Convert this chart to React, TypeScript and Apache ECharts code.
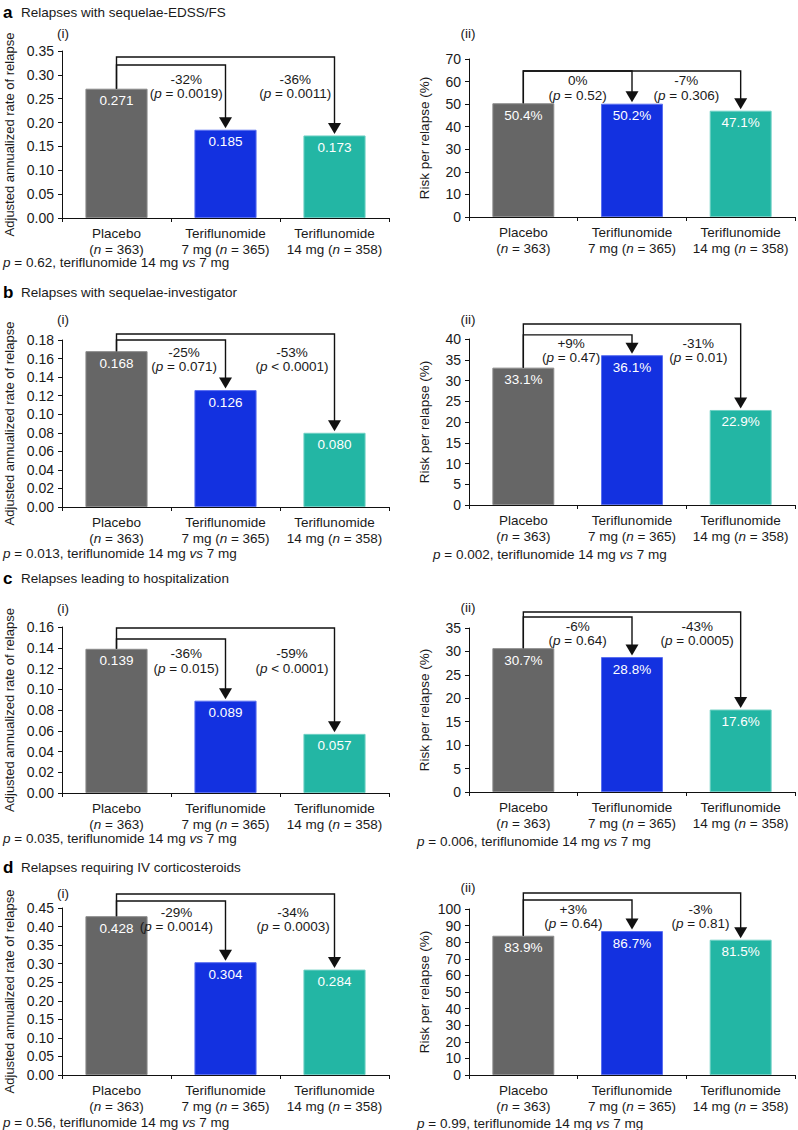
import React, { useEffect, useRef } from "react";
import * as echarts from "echarts";

// ---------- DATA ----------
const groupNames = ["Placebo", "Teriflunomide", "Teriflunomide"];
const groupDoses = ["", "7 mg ", "14 mg "];
const groupN = [363, 365, 358];

const panelLetters = ["a", "b", "c", "d"];
const panelTitles = [
  "Relapses with sequelae-EDSS/FS",
  "Relapses with sequelae-investigator",
  "Relapses leading to hospitalization",
  "Relapses requiring IV corticosteroids",
];

// (i) adjusted annualized rate of relapse
const rateEdss = [0.271, 0.185, 0.173];
const rateInv = [0.168, 0.126, 0.08];
const rateHosp = [0.139, 0.089, 0.057];
const rateIv = [0.428, 0.304, 0.284];
// (ii) risk per relapse (%)
const riskEdss = [50.4, 50.2, 47.1];
const riskInv = [33.1, 36.1, 22.9];
const riskHosp = [30.7, 28.8, 17.6];
const riskIv = [83.9, 86.7, 81.5];

// comparisons vs placebo (7 mg, 14 mg)
const rateEdssChange = ["-32%", "-36%"];
const rateEdssP = ["= 0.0019", "= 0.0011"];
const riskEdssChange = ["0%", "-7%"];
const riskEdssP = ["= 0.52", "= 0.306"];
const rateInvChange = ["-25%", "-53%"];
const rateInvP = ["= 0.071", "< 0.0001"];
const riskInvChange = ["+9%", "-31%"];
const riskInvP = ["= 0.47", "= 0.01"];
const rateHospChange = ["-36%", "-59%"];
const rateHospP = ["= 0.015", "< 0.0001"];
const riskHospChange = ["-6%", "-43%"];
const riskHospP = ["= 0.64", "= 0.0005"];
const rateIvChange = ["-29%", "-34%"];
const rateIvP = ["= 0.0014", "= 0.0003"];
const riskIvChange = ["+3%", "-3%"];
const riskIvP = ["= 0.64", "= 0.81"];

// p, teriflunomide 14 mg vs 7 mg
const rateP14vs7 = ["0.62", "0.013", "0.035", "0.56"];
const riskP14vs7 = ["", "0.002", "0.006", "0.99"];

// axis scales
const rateMax = [0.35, 0.18, 0.16, 0.45];
const rateStep = [0.05, 0.02, 0.02, 0.05];
const riskMax = [70, 40, 35, 100];
const riskStep = [10, 5, 5, 10];

// ---------- LAYOUT / STYLE ----------
const FONT = '"Liberation Sans", Arial, Helvetica, sans-serif';
const TXT = "#1a1a1a";
const barColors = ["#666666", "#1331e0", "#23b6a4"];
const barBorders = ["#8c8c8c", "#5a6ff0", "#6fd0c4"];

type Panel = {
  kind: "rate" | "risk";
  values: number[];
  max: number;
  step: number;
  change: string[];
  pv: string[];
  top: number;
  height: number;
  levels: number[];
  textCats: number[];
  textLevel: number;
};

const panels: Panel[] = [
  { kind: "rate", values: rateEdss, max: rateMax[0], step: rateStep[0], change: rateEdssChange, pv: rateEdssP, top: 51, height: 167, levels: [0.3207, 0.3375], textCats: [0.64, 1.64], textLevel: 0.2913 },
  { kind: "risk", values: riskEdss, max: riskMax[0], step: riskStep[0], change: riskEdssChange, pv: riskEdssP, top: 59, height: 158, levels: [64.7, 64.7], textCats: [0.5, 1.5], textLevel: 60.3 },
  { kind: "rate", values: rateInv, max: rateMax[1], step: rateStep[1], change: rateInvChange, pv: rateInvP, top: 340, height: 167, levels: [0.18, 0.1865], textCats: [0.62, 1.61], textLevel: 0.167 },
  { kind: "risk", values: riskInv, max: riskMax[1], step: riskStep[1], change: riskInvChange, pv: riskInvP, top: 339, height: 166, levels: [41.0, 43.6], textCats: [0.44, 1.61], textLevel: 39.0 },
  { kind: "rate", values: rateHosp, max: rateMax[2], step: rateStep[2], change: rateHospChange, pv: rateHospP, top: 627, height: 166, levels: [0.1484, 0.159], textCats: [0.64, 1.61], textLevel: 0.134 },
  { kind: "risk", values: riskHosp, max: riskMax[2], step: riskStep[2], change: riskHospChange, pv: riskHospP, top: 628, height: 164, levels: [37.35, 38.4], textCats: [0.5, 1.6], textLevel: 35.4 },
  { kind: "rate", values: rateIv, max: rateMax[3], step: rateStep[3], change: rateIvChange, pv: rateIvP, top: 908, height: 167, levels: [0.4689, 0.4877], textCats: [0.55, 1.62], textLevel: 0.4392 },
  { kind: "risk", values: riskIv, max: riskMax[3], step: riskStep[3], change: riskIvChange, pv: riskIvP, top: 909, height: 166, levels: [105.4, 109.6], textCats: [0.46, 1.63], textLevel: 100 },
];

const titleY = [13, 293, 579, 868];
const romanY = [33, 319, 608, 893];
const romanY2 = [33, 319, 607, 887];
const footerLeftY = [262, 553, 838, 1122];
const footerRightY = [0, 554, 841, 1123];
const footerRightX = [0, 433, 417, 417];

const catLabels = groupNames.map((g, i) =>
  i === 0 ? `${g}\n({i|n} = ${groupN[i]})` : `${g}\n${groupDoses[i]}({i|n} = ${groupN[i]})`
);

const italicRich = (size: number) => ({
  i: { fontStyle: "italic", fontSize: size, fontFamily: FONT, color: TXT, fill: TXT },
});

function buildOption() {
  const grids: any[] = [];
  const xAxes: any[] = [];
  const yAxes: any[] = [];
  const series: any[] = [];

  panels.forEach((p, k) => {
    const right = k % 2 === 1;
    grids.push({
      left: right ? 469 : 62,
      width: right ? 326 : 327,
      top: p.top,
      height: p.height,
      containLabel: false,
    });
    xAxes.push({
      type: "category",
      gridIndex: k,
      data: catLabels,
      axisLine: { lineStyle: { color: "#111", width: 1 } },
      axisTick: { show: true, alignWithLabel: false, length: 4, lineStyle: { color: "#111" } },
      axisLabel: {
        interval: 0,
        margin: 7,
        fontSize: 13.5,
        lineHeight: 16,
        fontFamily: FONT,
        color: TXT,
        rich: {
          i: { fontStyle: "italic", fontSize: 13.5, fontFamily: FONT, color: TXT, lineHeight: 16 },
        },
      },
    });
    yAxes.push({
      type: "value",
      gridIndex: k,
      min: 0,
      max: p.max,
      interval: p.step,
      name: p.kind === "rate" ? "Adjusted annualized rate of relapse" : "Risk per relapse (%)",
      nameLocation: "middle",
      nameGap: p.kind === "rate" ? 46 : 38,
      nameTextStyle: { fontSize: p.kind === "rate" ? 13 : 13.5, fontFamily: FONT, color: TXT },
      axisLine: { show: true, lineStyle: { color: "#111", width: 1 } },
      axisTick: { show: true, length: 4, lineStyle: { color: "#111" } },
      splitLine: { show: false },
      axisLabel: {
        fontSize: 14,
        fontFamily: FONT,
        color: TXT,
        margin: 8,
        formatter: (v: number) => (p.kind === "rate" ? v.toFixed(2) : String(Math.round(v))),
      },
    });
    series.push({
      type: "bar",
      xAxisIndex: k,
      yAxisIndex: k,
      barWidth: "57%",
      data: p.values.map((v, i) => ({
        value: v,
        itemStyle: { color: barColors[i], borderColor: barBorders[i], borderWidth: 1 },
      })),
      label: {
        show: true,
        position: "insideTop",
        distance: 5,
        color: "#ffffff",
        fontSize: 13.5,
        fontFamily: FONT,
        formatter: (prm: any) =>
          p.kind === "rate" ? Number(prm.value).toFixed(3) : Number(prm.value).toFixed(1) + "%",
      },
    });
    // brackets with arrows, drawn through the axes' scales
    const bracketData = [1, 2].map((t, j) => [
      t,
      p.levels[j],
      p.values[t],
      p.values[0],
      p.textCats[j],
      p.textLevel,
    ]);
    series.push({
      type: "custom",
      xAxisIndex: k,
      yAxisIndex: k,
      clip: false,
      silent: true,
      z: 5,
      data: bracketData,
      renderItem: (params: any, api: any) => {
        const idx = params.dataIndex;
        const target = api.value(0);
        const level = api.value(1);
        const targetTop = api.value(2);
        const placeboTop = api.value(3);
        const textCat = api.value(4);
        const textLevel = api.value(5);
        const a = api.coord([0, placeboTop]);
        const b = api.coord([0, level]);
        const c = api.coord([target, level]);
        const d = api.coord([target, targetTop]);
        const cw = api.size([1, 0])[0];
        const tBase = api.coord([0, textLevel]);
        const tx = tBase[0] + textCat * cw;
        const ty = tBase[1];
        const tipY = d[1] - 1.5;
        const ah = 11;
        const aw = 6.5;
        return {
          type: "group",
          children: [
            {
              type: "polyline",
              shape: { points: [[a[0], a[1]], [b[0], b[1]], [c[0], c[1]], [c[0], tipY - ah + 1]] },
              style: { stroke: "#111", lineWidth: 1.4, fill: "none" },
            },
            {
              type: "polygon",
              shape: { points: [[c[0] - aw, tipY - ah], [c[0] + aw, tipY - ah], [c[0], tipY]] },
              style: { fill: "#111" },
            },
            {
              type: "text",
              x: tx,
              y: ty,
              style: {
                text: p.change[idx],
                fontSize: 13.5,
                fontFamily: FONT,
                fill: TXT,
                align: "center",
                verticalAlign: "middle",
              },
            },
            {
              type: "text",
              x: tx,
              y: ty + 14.5,
              style: {
                text: `({i|p} ${p.pv[idx]})`,
                fontSize: 13.5,
                fontFamily: FONT,
                fill: TXT,
                align: "center",
                verticalAlign: "middle",
                rich: italicRich(13.5),
              },
            },
          ],
        };
      },
    });
  });

  const graphic: any[] = [];
  panelLetters.forEach((L, k) => {
    graphic.push({
      type: "text",
      left: 3,
      top: titleY[k] - 9,
      style: { text: L, fontSize: 17, fontWeight: "bold", fontFamily: FONT, fill: "#000" },
    });
    graphic.push({
      type: "text",
      left: 21,
      top: titleY[k] - 8,
      style: { text: panelTitles[k], fontSize: 13.5, fontFamily: FONT, fill: TXT },
    });
    graphic.push({
      type: "text",
      x: 63,
      y: romanY[k],
      style: { text: "(i)", fontSize: 13.5, fontFamily: FONT, fill: TXT, align: "center", verticalAlign: "middle" },
    });
    graphic.push({
      type: "text",
      x: 468,
      y: romanY2[k],
      style: { text: "(ii)", fontSize: 13.5, fontFamily: FONT, fill: TXT, align: "center", verticalAlign: "middle" },
    });
    graphic.push({
      type: "text",
      x: 3,
      y: footerLeftY[k],
      style: {
        text: `{i|p} = ${rateP14vs7[k]}, teriflunomide 14 mg {i|vs} 7 mg`,
        fontSize: 13.5,
        fontFamily: FONT,
        fill: TXT,
        verticalAlign: "middle",
        rich: italicRich(13.5),
      },
    });
    if (riskP14vs7[k]) {
      graphic.push({
        type: "text",
        x: footerRightX[k],
        y: footerRightY[k],
        style: {
          text: `{i|p} = ${riskP14vs7[k]}, teriflunomide 14 mg {i|vs} 7 mg`,
          fontSize: 13.5,
          fontFamily: FONT,
          fill: TXT,
          verticalAlign: "middle",
          rich: italicRich(13.5),
        },
      });
    }
  });

  return {
    animation: false,
    backgroundColor: "#ffffff",
    textStyle: { fontFamily: FONT },
    grid: grids,
    xAxis: xAxes,
    yAxis: yAxes,
    series,
    graphic,
  };
}

export default function App() {
  const ref = useRef<HTMLDivElement>(null);
  useEffect(() => {
    if (!ref.current) return;
    const chart = echarts.init(ref.current, undefined, { renderer: "svg" });
    chart.setOption(buildOption() as any);
    return () => chart.dispose();
  }, []);
  return (
    <div
      ref={ref}
      style={{ position: "fixed", left: 0, top: 0, width: 798, height: 1130, background: "#fff" }}
    />
  );
}
